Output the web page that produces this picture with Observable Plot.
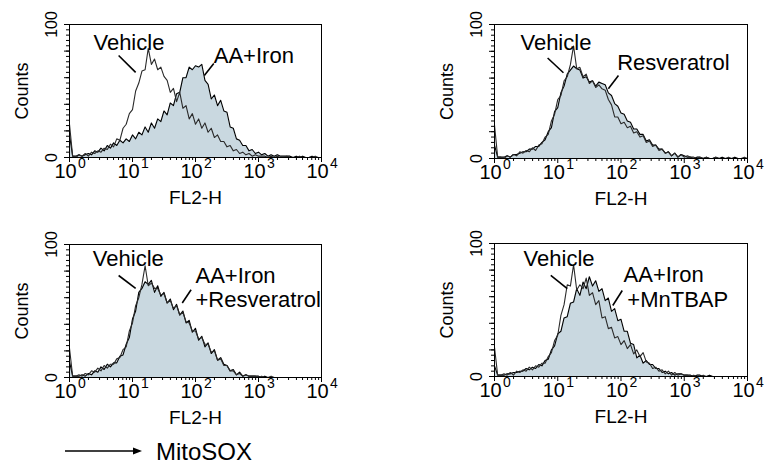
<!DOCTYPE html>
<html><head><meta charset="utf-8">
<script src="https://cdn.jsdelivr.net/npm/d3@7"></script>
<script src="https://cdn.jsdelivr.net/npm/@observablehq/plot@0.6"></script>
<style>
body{margin:0;background:#fff;}
#wrap{position:relative;width:764px;height:468px;background:#fff;font-family:"Liberation Sans",Arial,sans-serif;overflow:hidden}
.panel{position:absolute}
</style></head><body><div id="wrap"></div>
<script>
// log10 of FL2-H channel value
const logFL2 = [0.00,0.05,0.10,0.15,0.20,0.25,0.30,0.35,0.40,0.45,0.50,0.55,0.60,0.65,0.70,0.75,0.80,0.85,0.90,0.95,1.00,1.05,1.10,1.15,1.20,1.25,1.30,1.35,1.40,1.45,1.50,1.55,1.60,1.65,1.70,1.75,1.80,1.85,1.90,1.95,2.00,2.05,2.10,2.15,2.20,2.25,2.30,2.35,2.40,2.45,2.50,2.55,2.60,2.65,2.70,2.75,2.80,2.85,2.90,2.95,3.00,3.05,3.10,3.15,3.20,3.25,3.30,3.35,3.40,3.45,3.50,3.55,3.60,3.65,3.70,3.75,3.80,3.85,3.90,3.95,4.00];

const vehicle1 = [25,1,0,2,1,3,1,4,3,5, 4,7,6,10,8,14,13,22,25,33, 36,50,56,65,66,82,70,74,66,68, 61,58,49,52,42,49,37,39,29,33, 25,29,22,26,19,22,15,17,12,12, 8,9,5,6,3,4,2,3,1,2, 1,1,1,0,1,0,1,0,0,1, 0,0,0,1,0,0,0,0,1,0,0];
const treated1 = [17,1,1,2,1,2,3,2,5,4, 7,5,9,7,11,9,13,11,14,12, 17,14,19,17,23,19,26,22,29,27, 35,32,41,39,48,49,60,60,68,66, 69,68,70,58,55,44,47,39,43,35, 34,23,22,14,13,9,9,5,6,3, 4,2,3,1,2,1,2,1,1,1, 1,0,1,0,1,0,0,1,0,0,0];

const vehicle2 = [25,1,1,0,2,1,3,2,5,4, 6,5,8,6,10,11,16,18,28,33, 44,47,58,61,70,84,67,68,61,63, 56,58,53,55,52,51,44,40,31,31, 26,27,23,24,19,20,16,17,12,13, 9,10,6,7,4,5,2,4,1,3, 1,2,1,1,0,1,0,1,0,0, 1,0,0,0,1,0,0,0,0,1,0];
const treated2 = [10,1,1,1,2,1,3,3,4,5, 5,7,7,9,9,12,14,20,23,35, 38,49,54,63,66,69,67,66,60,61, 57,58,54,57,56,55,49,47,41,39, 34,33,28,27,22,22,18,18,13,14, 10,10,7,7,4,5,2,4,1,3, 2,1,1,0,1,1,0,1,0,0, 1,0,1,0,0,0,1,0,0,0,0];

const vehicle3 = [22,1,1,2,1,3,2,5,4,7, 5,9,7,10,10,14,15,21,23,35, 41,54,60,70,84,69,71,67,67,62, 63,56,58,52,54,47,49,42,41,35, 35,29,30,25,25,19,20,13,14,9, 9,5,5,2,3,1,2,1,1,1, 0,1,0,0,1,0,0,0,0,0, 0,0,0,0,0,0,0,0,0,0,0];
const treated3 = [12,1,1,1,2,1,3,2,5,4, 8,6,10,8,11,11,16,17,25,30, 44,50,64,67,72,70,73,64,69,61, 64,56,59,51,55,47,50,41,43,34, 37,28,31,23,26,18,21,13,15,10, 9,5,6,2,4,1,2,1,1,1, 1,0,1,0,0,0,0,0,0,0, 0,0,0,0,0,0,0,0,0,0,0];

const vehicle4 = [22,1,1,2,1,3,1,4,3,5, 4,7,5,8,7,10,10,15,18,27, 31,46,54,69,68,84,65,69,66,74, 61,63,54,57,44,45,36,37,29,30, 24,27,21,24,17,20,15,18,11,10, 6,7,4,5,2,4,1,3,1,2, 1,1,0,1,0,0,1,0,0,0, 0,0,0,0,0,0,0,0,0,0,0];
const treated4 = [8,1,1,1,2,2,3,3,4,4, 6,5,7,6,9,8,12,13,20,23, 32,34,44,45,55,56,66,61,71,66, 75,68,72,64,66,57,59,49,51,42, 43,34,34,25,24,14,16,10,12,9, 9,6,6,3,4,2,3,1,2,2, 1,1,1,0,1,1,0,0,1,0, 0,0,0,0,0,0,0,0,0,0,0];

const decadeExponents = [0,1,2,3,4];
const yTickLabels = [0,100];
const xLabel = "FL2-H";
const yLabel = "Counts";

// annotation text (log10 FL2-H, count, text)
const labels1 = [{L:0.38,c:81,t:"Vehicle"},{L:2.29,c:71.4,t:"AA+Iron"}];
const labels2 = [{L:0.41,c:80.6,t:"Vehicle"},{L:1.94,c:65.7,t:"Resveratrol"}];
const labels3 = [{L:0.37,c:84,t:"Vehicle"},{L:2.0,c:70.7,t:"AA+Iron"},{L:2.0,c:53,t:"+Resveratrol"}];
const labels4 = [{L:0.46,c:83,t:"Vehicle"},{L:2.04,c:70.7,t:"AA+Iron"},{L:2.1,c:52.5,t:"+MnTBAP"}];
const pointers1 = [{L1:0.78,c1:76.7,L2:1.05,c2:64},{L1:2.29,c1:70.7,L2:2.14,c2:61.7}];
const pointers2 = [{L1:0.84,c1:75,L2:1.09,c2:64},{L1:1.96,c1:62,L2:1.80,c2:52}];
const pointers3 = [{L1:0.78,c1:76.7,L2:1.05,c2:67},{L1:1.93,c1:66,L2:1.79,c2:56}];
const pointers4 = [{L1:0.89,c1:76,L2:1.15,c2:66},{L1:2.02,c1:64.7,L2:1.87,c2:53.4}];

const fillColor = "#c9d8e0";
const font = "'Liberation Sans', Arial, sans-serif";

function panel(vehicle, treated, labels, pointers, box) {
  const rows = logFL2.map((L, i) => ({fl2: 10 ** L, vehicle: vehicle[i], treated: treated[i]}));
  const majorX = decadeExponents.map(e => 10 ** e);
  const minorX = [];
  for (let e = 0; e < 4; e++) for (let k = 2; k <= 9; k++) minorX.push(k * 10 ** e);
  const minorY = d3.range(0, 101, 4);
  const majorY = d3.range(0, 101, 20);
  return Plot.plot({
    width: box.w, height: box.h,
    marginTop: box.mt, marginRight: box.mr, marginBottom: box.mb, marginLeft: box.ml,
    style: {fontFamily: font, background: "transparent", color: "black", overflow: "visible"},
    x: {type: "log", domain: [1, 10000], label: null},
    y: {domain: [0, 100], label: null},
    marks: [
      Plot.areaY(rows, {x: "fl2", y: "treated", fill: fillColor}),
      Plot.lineY(rows, {x: "fl2", y: "treated", stroke: "#000", strokeWidth: 1.1}),
      Plot.lineY(rows, {x: "fl2", y: "vehicle", stroke: "#2a2a2a", strokeWidth: 1.1}),
      Plot.frame({stroke: "black", strokeWidth: 1}),
      Plot.axisX({ticks: minorX, tickSize: 3, tickFormat: () => "", label: null}),
      Plot.axisX({ticks: majorX, tickSize: 5, tickFormat: () => "", label: null}),
      Plot.axisY({ticks: minorY, tickSize: 3, tickFormat: () => "", label: null}),
      Plot.axisY({ticks: majorY, tickSize: 5, tickFormat: () => "", label: null}),
      Plot.text(decadeExponents, {x: e => 10 ** e, frameAnchor: "bottom", text: () => "10", dy: 14, dx: -4, fontSize: 20, textAnchor: "middle", lineAnchor: "middle"}),
      Plot.text(decadeExponents, {x: e => 10 ** e, frameAnchor: "bottom", text: e => String(e), dy: 6, dx: 12.5, fontSize: 14, textAnchor: "middle", lineAnchor: "middle"}),
      Plot.text(yTickLabels, {y: d => d, frameAnchor: "left", text: d => String(d), rotate: -90, dx: -18, fontSize: 16, textAnchor: "middle", lineAnchor: "middle"}),
      Plot.text([yLabel], {frameAnchor: "left", text: d => d, rotate: -90, dx: -47, fontSize: 18, textAnchor: "middle", lineAnchor: "middle"}),
      Plot.text([xLabel], {frameAnchor: "bottom", text: d => d, dy: 40, fontSize: 19, textAnchor: "middle", lineAnchor: "middle"}),
      Plot.link(pointers, {x1: d => 10 ** d.L1, y1: "c1", x2: d => 10 ** d.L2, y2: "c2", stroke: "black", strokeWidth: 1.6}),
      Plot.text(labels, {x: d => 10 ** d.L, y: "c", text: "t", textAnchor: "start", lineAnchor: "bottom", fontSize: 22})
    ]
  });
}

const wrap = document.getElementById("wrap");
const boxes = [
  {left: 0,   top: 0,   w: 382, h: 215, mt: 24, mr: 61, mb: 58, ml: 69,  v: vehicle1, t: treated1, l: labels1, p: pointers1},
  {left: 382, top: 0,   w: 382, h: 215, mt: 24, mr: 17, mb: 57, ml: 112, v: vehicle2, t: treated2, l: labels2, p: pointers2},
  {left: 0,   top: 220, w: 382, h: 215, mt: 24, mr: 61, mb: 58, ml: 69,  v: vehicle3, t: treated3, l: labels3, p: pointers3},
  {left: 382, top: 220, w: 382, h: 215, mt: 23, mr: 17, mb: 59, ml: 112, v: vehicle4, t: treated4, l: labels4, p: pointers4}
];
for (const b of boxes) {
  const div = document.createElement("div");
  div.className = "panel";
  div.style.left = b.left + "px";
  div.style.top = b.top + "px";
  div.appendChild(panel(b.v, b.t, b.l, b.p, b));
  wrap.appendChild(div);
}

// MitoSOX arrow caption
const cap = document.createElement("div");
cap.className = "panel";
cap.style.left = "0px"; cap.style.top = "430px";
cap.innerHTML = `<svg width="764" height="38" style="font-family:${font}">
  <line x1="65" y1="21" x2="134" y2="21" stroke="black" stroke-width="1.3"/>
  <polygon points="133,17.5 142,21 133,24.5" fill="black"/>
  <text x="156" y="30" font-size="24" fill="black">MitoSOX</text></svg>`;
wrap.appendChild(cap);
</script></body></html>
